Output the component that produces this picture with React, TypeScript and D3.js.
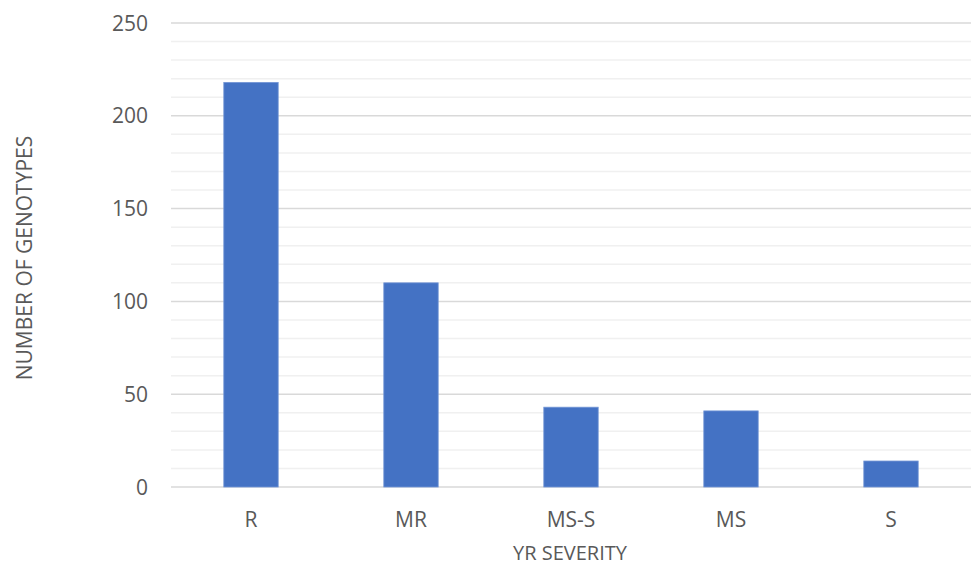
import React from "react";
import * as d3 from "d3";

const categories = ["R", "MR", "MS-S", "MS", "S"];
const genotypeCounts = [218, 110, 43, 41, 14];
const yMajorTicks = [0, 50, 100, 150, 200, 250];
const yMinorTicks = d3.range(10, 250, 10).filter((v) => v % 50 !== 0);

const W = 973;
const H = 567;
const M = { left: 171, right: 2, top: 23, bottom: 80 };

export default function App() {
  const x = d3
    .scaleBand<string>()
    .domain(categories)
    .range([M.left, W - M.right])
    .paddingInner(0.66)
    .paddingOuter(0.33);
  const y = d3.scaleLinear().domain([0, 250]).range([H - M.bottom, M.top]);
  const font = "'Open Sans', 'Noto Sans', sans-serif";
  const textColor = "#595959";

  return (
    <svg
      width={W}
      height={H}
      style={{ position: "absolute", left: 0, top: 0, background: "#fff" }}
      fontFamily={font}
    >
      {yMinorTicks.map((t) => (
        <line key={"m" + t} x1={M.left} x2={W - M.right} y1={y(t)} y2={y(t)} stroke="#f0f0f0" strokeWidth={1.5} />
      ))}
      {yMajorTicks.map((t) => (
        <g key={t}>
          <line x1={M.left} x2={W - M.right} y1={y(t)} y2={y(t)} stroke="#d9d9d9" strokeWidth={1.5} />
          <text x={148} y={y(t)} dy="0.36em" textAnchor="end" fontSize={21} fill={textColor}>
            {t}
          </text>
        </g>
      ))}
      {categories.map((c, i) => (
        <rect
          key={c}
          x={x(c)}
          y={y(genotypeCounts[i])}
          width={x.bandwidth()}
          height={y(0) - y(genotypeCounts[i])}
          fill="#4472c4"
          stroke="#7396d6"
          strokeWidth={0.8}
        />
      ))}
      {categories.map((c) => (
        <text key={"l" + c} x={(x(c) ?? 0) + x.bandwidth() / 2} y={527} textAnchor="middle" fontSize={21} fill={textColor}>
          {c}
        </text>
      ))}
      <text x={570} y={560} textAnchor="middle" fontSize={20} fill={textColor}>
        YR SEVERITY
      </text>
      <text
        transform={`translate(32, ${258}) rotate(-90)`}
        textAnchor="middle"
        fontSize={21}
        fill={textColor}
      >
        NUMBER OF GENOTYPES
      </text>
    </svg>
  );
}
